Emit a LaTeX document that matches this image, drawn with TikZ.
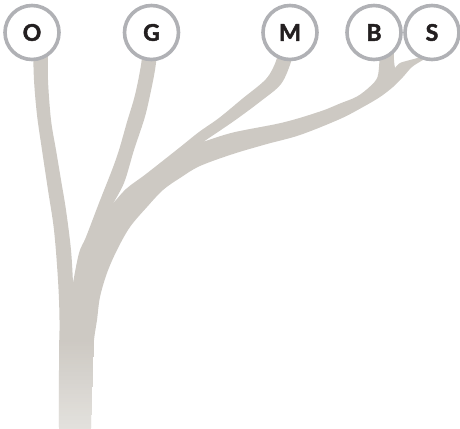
\documentclass[tikz,border=0pt]{standalone}
\usepackage{fontspec}
\setmainfont{Lato}
\newfontfamily\heavyfont[BoldFeatures={FakeBold=2}]{Lato}
\definecolor{treec}{HTML}{CDC9C3}
\definecolor{treelight}{HTML}{E3E1DD}
\definecolor{ringc}{HTML}{B0B1B5}
\definecolor{txtc}{HTML}{231F20}
\tikzset{
  leaf/.style={circle, draw=ringc, line width=3.6pt, fill=white, minimum size=54pt,
    inner sep=0pt, font=\heavyfont\fontsize{23}{23}\selectfont\bfseries, text=txtc},
  edge/.style={smooth, tension=0.55}
}
\begin{document}
\begin{tikzpicture}[x=1pt,y=-1pt]
\useasboundingbox (0,0) rectangle (460,428);
\fill[treec]
  (59,428)
  -- plot[edge] coordinates {(59,428) (59,370) (59.5,320) (58,280) (54,230) (48,190) (42,150) (37,115) (34,80) (33,45)}
  -- plot[edge] coordinates {(48,45) (48,80) (51,120) (56,150) (61,180) (66,210) (71,250) (73,283)}
  -- plot[edge] coordinates {(73,283) (79,253) (86,237) (99,203) (112,170) (119,150) (127,122) (135,95) (141,65) (143,45)}
  -- plot[edge] coordinates {(158,45) (155,70) (149,100) (144,120) (134,150) (124,183) (112,205)}
  -- plot[edge] coordinates {(112,205) (126,189) (146,174) (179,148) (199,132) (219,118) (242,99) (266,79) (276,61) (279,45)}
  -- plot[edge] coordinates {(295,45) (291,62) (281,84) (261,101) (234,121) (203,142)}
  -- plot[edge] coordinates {(203,142) (233,132.5) (283,122.5) (320,111.5) (340,103.5) (357,96.5) (370,86.5) (377.5,77) (379.5,60) (380.5,45)}
  -- plot[edge] coordinates {(394,45) (394,60) (395,68)}
  -- plot[edge] coordinates {(395,68) (400,63) (410,60) (420,57) (430,50)}
  -- plot[edge] coordinates {(434,54) (423,60) (412,67) (403,77) (393,87) (380,97) (363,107) (340,119) (300,135) (267,144) (233,154) (200,166) (180,178) (163,190) (147,207) (130,227) (117,250) (107,273) (100,297) (97,320) (94,340) (92,370) (91,428)}
  -- cycle;
% lighter base of the trunk
\foreach \k in {0,...,44}{
  \pgfmathsetmacro{\ya}{340+2*\k}
  \pgfmathsetmacro{\yb}{\ya+2.6}
  \pgfmathsetmacro{\pc}{100*\k/44}
  \pgfmathsetmacro{\xr}{94-3*\k/44}
  \fill[treelight!\pc!treec] (59,\ya) rectangle (\xr,\yb);
}
\node[leaf] (O) at (32,32.5) {O};
\node[leaf] (G) at (151.5,32.5) {G};
\node[leaf] (M) at (290,32.5) {M};
\node[leaf] (B) at (374,32.5) {B};
\node[leaf] (S) at (432,32.5) {S};
\end{tikzpicture}
\end{document}
